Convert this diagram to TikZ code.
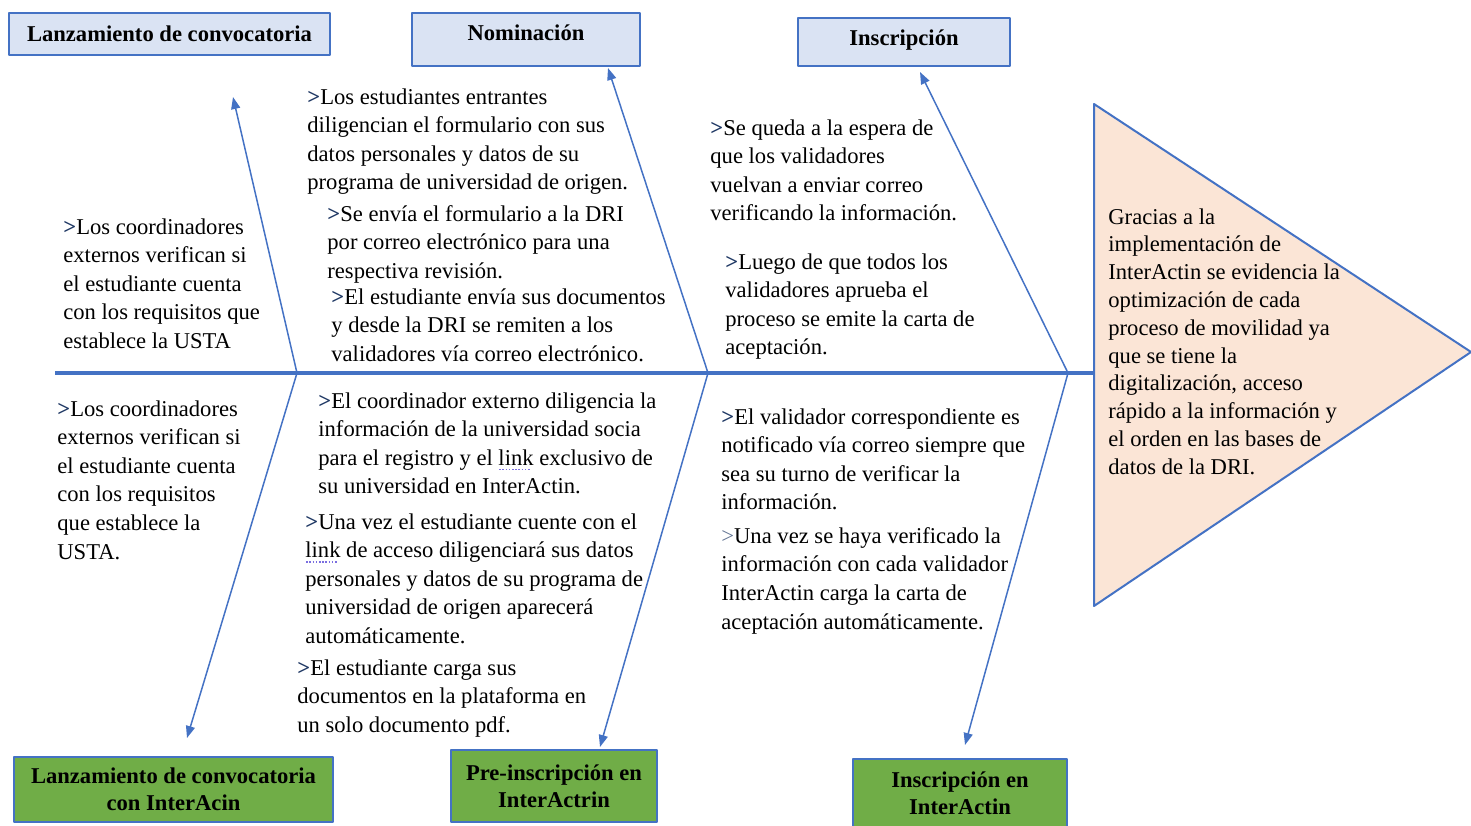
\documentclass[tikz,border=0pt]{standalone}
\usepackage{fontspec}
\setmainfont{Liberation Serif}
\usetikzlibrary{arrows.meta}
\definecolor{ribblue}{HTML}{4472C4}
\definecolor{headfill}{HTML}{DAE3F3}
\definecolor{leaffill}{HTML}{70AD47}
\definecolor{goalfill}{HTML}{FBE5D6}
\definecolor{marknavy}{HTML}{1F3864}
\definecolor{spellline}{HTML}{7B6FE0}
\newcommand{\mrk}{\textcolor{marknavy}{\textbf{>}}}
\newcommand{\mrkthin}{\textcolor{marknavy!70}{>}}
\newsavebox{\lnkbox}
\newcommand{\lnk}{\sbox{\lnkbox}{link}\rlap{\textcolor{spellline}{\raisebox{-2.5pt}{\hbox to \wd\lnkbox{\leaders\hbox to 1.6pt{\hss\rule{0.8pt}{0.7pt}\hss}\hfill}}}}\usebox{\lnkbox}}

\begin{document}
\begin{tikzpicture}[line cap=round,line join=round,>={Triangle[length=6pt,width=4.5pt]},x=0.5pt,y=-0.5pt,
    headbox/.style={draw=ribblue,line width=1pt,fill=headfill,align=center,inner sep=0pt,font=\fontsize{11.3}{13.5}\selectfont\bfseries},
    leafbox/.style={headbox,fill=leaffill},
    note/.style={anchor=north west,align=left,inner sep=0pt,font=\fontsize{11.3}{14.3}\selectfont},
    rib/.style={draw=ribblue,line width=0.75pt,->}]
    \useasboundingbox (0,0) rectangle (1471,825);
    \coordinate (spinew) at (55,373);
    \coordinate (spinee) at (1094,373);
    \coordinate (j1) at (297,373);
    \coordinate (j2) at (708,373);
    \coordinate (j3) at (1068,373);
    \coordinate (t1) at (233,97);
    \coordinate (t2) at (608,68);
    \coordinate (t3) at (920,72);
    \coordinate (b1) at (187,738);
    \coordinate (b2) at (600,747);
    \coordinate (b3) at (965,745);
    \draw [draw=ribblue,line width=1pt,fill=goalfill] (1094,104) -- (1471,352) -- (1094,606) -- cycle;
    \draw [draw=ribblue,line width=1.8pt,line cap=butt] (spinew) -- (spinee);
    \draw [rib] (j1) -- (t1);
    \draw [rib] (j1) -- (b1);
    \draw [rib] (j2) -- (t2);
    \draw [rib] (j2) -- (b2);
    \draw [rib] (j3) -- (t3);
    \draw [rib] (j3) -- (b3);
    \node [headbox,minimum width=160.5pt,minimum height=21pt] (lanz) at (169.5,34) {Lanzamiento de convocatoria};
    \node [headbox,minimum width=114pt,minimum height=26.5pt] (nomi) at (526,39.5) {Nominación\rule[-7pt]{0pt}{7pt}};
    \node [headbox,minimum width=106pt,minimum height=24pt] (insc) at (904,42) {Inscripción\rule[-4.5pt]{0pt}{4.5pt}};
    \node [leafbox,minimum width=159.5pt,minimum height=32.5pt] (lanzia) at (173.5,789.5) {Lanzamiento de convocatoria\\con InterAcin};
    \node [leafbox,minimum width=103pt,minimum height=36pt] (preins) at (554,786) {Pre-inscripción en\\InterActrin};
    \node [leafbox,minimum width=107pt,minimum height=34.5pt] (inscia) at (960,793.5) {Inscripción en\\InterActin};
    \node [note] (coordsup) at (63,218) {\mrk Los coordinadores\\externos verifican si\\el estudiante cuenta\\con los requisitos que\\establece la USTA};
    \node [note] (coordinf) at (57,400) {\mrk Los coordinadores\\externos verifican si\\el estudiante cuenta\\con los requisitos\\que establece la\\USTA.};
    \node [note] (formul) at (307,88) {\mrk Los estudiantes entrantes\\diligencian el formulario con sus\\datos personales y datos de su\\programa de universidad de origen.};
    \node [note] (envio) at (327,205) {\mrk Se envía el formulario a la DRI\\por correo electrónico para una\\respectiva revisión.};
    \node [note] (docs) at (331,288) {\mrk El estudiante envía sus documentos\\y desde la DRI se remiten a los\\validadores vía correo electrónico.};
    \node [note] (coordext) at (318,392) {\mrk El coordinador externo diligencia la\\información de la universidad socia\\para el registro y el \lnk{} exclusivo de\\su universidad en InterActin.};
    \node [note] (acceso) at (305,513) {\mrk Una vez el estudiante cuente con el\\\lnk{} de acceso diligenciará sus datos\\personales y datos de su programa de\\universidad de origen aparecerá\\automáticamente.};
    \node [note] (carga) at (297,659) {\mrk El estudiante carga sus\\documentos en la plataforma en\\un solo documento pdf.};
    \node [note] (espera) at (710,119) {\mrk Se queda a la espera de\\que los validadores\\vuelvan a enviar correo\\verificando la información.};
    \node [note] (aprueba) at (725,253) {\mrk Luego de que todos los\\validadores aprueba el\\proceso se emite la carta de\\aceptación.};
    \node [note] (notif) at (721,408) {\mrk El validador correspondiente es\\notificado vía correo siempre que\\sea su turno de verificar la\\información.};
    \node [note] (verif) at (721,527) {\mrkthin Una vez se haya verificado la\\información con cada validador\\InterActin carga la carta de\\aceptación automáticamente.};
    \node [note,font=\fontsize{11.3}{13.9}\selectfont] (gracias) at (1108,208) {Gracias a la\\implementación de\\InterActin se evidencia la\\optimización de cada\\proceso de movilidad ya\\que se tiene la\\digitalización, acceso\\rápido a la información y\\el orden en las bases de\\datos de la DRI.};
\end{tikzpicture}
\end{document}
